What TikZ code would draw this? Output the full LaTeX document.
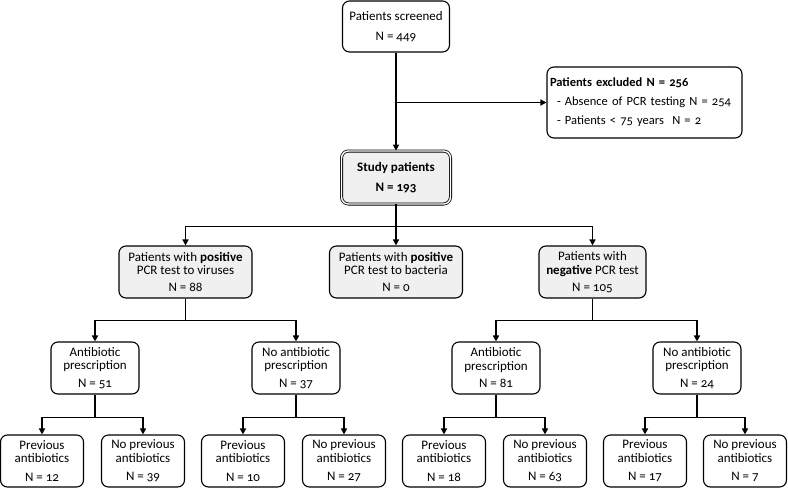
\documentclass[tikz,border=0pt]{standalone}
\usepackage{fontspec}
\setmainfont[Numbers=OldStyle]{Carlito}
\usetikzlibrary{arrows.meta}

\tikzset{
  box/.style={draw, line width=1.1pt, rounded corners=7pt, align=center, inner sep=0pt,
    font=\fontsize{13}{13.5}\selectfont},
  greybox/.style={box, fill=black!6},
  leafbox/.style={box, minimum width=83pt, minimum height=52pt},
  abxbox/.style={box, minimum width=88pt, minimum height=52pt},
  conn/.style={line width=1.6pt, -{Triangle[length=6pt,width=6pt]}},
}

\begin{document}
\begin{tikzpicture}[x=1pt,y=-1pt]
	%%%%% START %%%%%
	\useasboundingbox (0,0) rectangle (788,488);
	
	\node[box, minimum width=107pt, minimum height=51pt] (screened) at (396, 26.5)
		{Patients screened\\[6pt]N = 449};
	\node[box, text width=189pt, inner xsep=3pt, minimum height=71pt, align=left,
		font=\fontsize{12.5}{19}\selectfont] (excluded) at (644.5, 102.5)
		{\mbox{\textbf{Patients excluded N = 256}}\\
		 \mbox{\hspace*{7pt}- Absence of PCR testing N = 254}\\
		 \mbox{\hspace*{7pt}- Patients < 75 years~ N = 2}};
	\node[greybox, double, double distance=1.4pt, line width=0.8pt,
		minimum width=109pt, minimum height=53pt] (study) at (396, 177.5)
		{\textbf{Study patients}\\[6pt]\textbf{N = 193}};
	
	\node[greybox, minimum width=133pt, minimum height=52pt] (viruses) at (185.5, 272)
		{Patients with \textbf{positive}\\PCR test to viruses\\[3.5pt]N = 88};
	\node[greybox, minimum width=133pt, minimum height=52pt] (bacteria) at (396, 272)
		{Patients with \textbf{positive}\\PCR test to bacteria\\[3.5pt]N = 0};
	\node[greybox, minimum width=107pt, minimum height=52pt] (negative) at (592.5, 272)
		{Patients with\\\textbf{negative} PCR test\\[3.5pt]N = 105};
	
	\node[abxbox] (abxpos) at (95, 368) {Antibiotic\\prescription\\[4pt]N = 51};
	\node[abxbox] (noabxpos) at (296, 368) {No antibiotic\\prescription\\[4pt]N = 37};
	\node[abxbox] (abxneg) at (496, 368) {Antibiotic\\prescription\\[4pt]N = 81};
	\node[abxbox] (noabxneg) at (697, 368) {No antibiotic\\prescription\\[4pt]N = 24};
	
	\node[leafbox] (prev1) at (42, 461) {Previous\\antibiotics\\[5pt]N = 12};
	\node[leafbox] (noprev1) at (143, 461) {No previous\\antibiotics\\[5pt]N = 39};
	\node[leafbox] (prev2) at (243, 461) {Previous\\antibiotics\\[5pt]N = 10};
	\node[leafbox] (noprev2) at (344, 461) {No previous\\antibiotics\\[5pt]N = 27};
	\node[leafbox] (prev3) at (444, 461) {Previous\\antibiotics\\[5pt]N = 18};
	\node[leafbox] (noprev3) at (545, 461) {No previous\\antibiotics\\[5pt]N = 63};
	\node[leafbox] (prev4) at (645, 461) {Previous\\antibiotics\\[5pt]N = 17};
	\node[leafbox] (noprev4) at (745, 461) {No previous\\antibiotics\\[5pt]N = 7};
	
	% screening
	\draw[conn] (screened) -- (study);
	\coordinate (split) at (screened.south |- excluded.west);
	\draw[conn] (split) -- (excluded);
	
	% PCR results
	\draw[conn] (study.south) -- ++(0,22) -| (viruses.north);
	\draw[conn] (study.south) -- ++(0,22) -| (negative.north);
	\draw[conn] (study) -- (bacteria);
	
	% antibiotic prescription
	\draw[conn] (viruses.south) -- ++(0,22) -| (abxpos.north);
	\draw[conn] (viruses.south) -- ++(0,22) -| (noabxpos.north);
	\draw[conn] (negative.south) -- ++(0,22) -| (abxneg.north);
	\draw[conn] (negative.south) -- ++(0,22) -| (noabxneg.north);
	
	% previous antibiotics
	\draw[conn] (abxpos.south) -- ++(0,23) -| (prev1.north);
	\draw[conn] (abxpos.south) -- ++(0,23) -| (noprev1.north);
	\draw[conn] (noabxpos.south) -- ++(0,23) -| (prev2.north);
	\draw[conn] (noabxpos.south) -- ++(0,23) -| (noprev2.north);
	\draw[conn] (abxneg.south) -- ++(0,23) -| (prev3.north);
	\draw[conn] (abxneg.south) -- ++(0,23) -| (noprev3.north);
	\draw[conn] (noabxneg.south) -- ++(0,23) -| (prev4.north);
	\draw[conn] (noabxneg.south) -- ++(0,23) -| (noprev4.north);
	
	%%%%% END %%%%%
\end{tikzpicture}
\end{document}
